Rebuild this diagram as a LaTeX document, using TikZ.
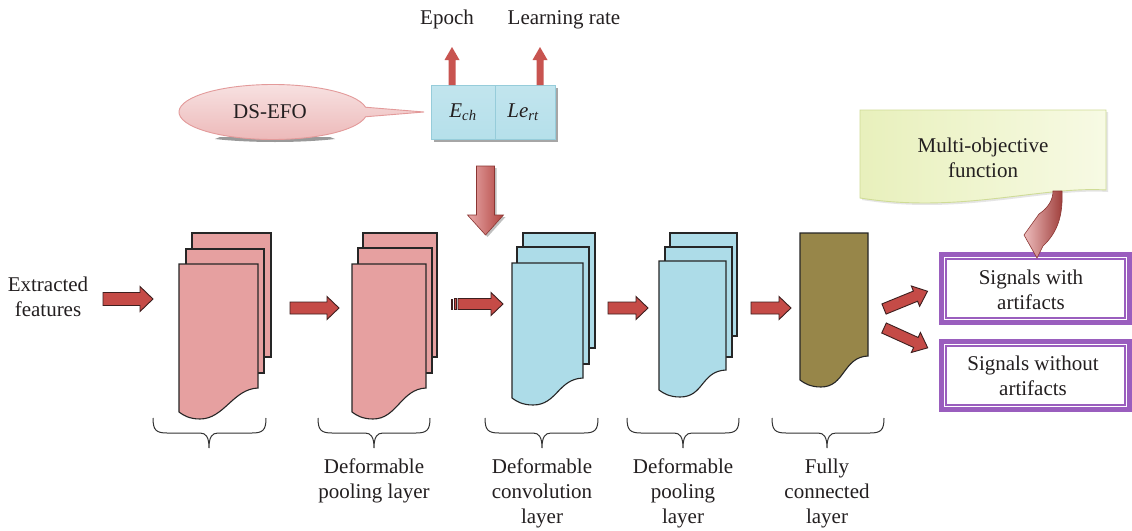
\documentclass[tikz,border=0pt]{standalone}
\usepackage{fontspec}
\setmainfont{Liberation Serif}
\usetikzlibrary{shapes.callouts,shadows}
\definecolor{sheetpink}{HTML}{E6A0A0}
\definecolor{sheetblue}{HTML}{ADDCE8}
\definecolor{sheetolive}{HTML}{978649}
\definecolor{arrred}{HTML}{C54B47}
\definecolor{arredge}{HTML}{3D1F1F}
\definecolor{txt}{HTML}{231F20}
\definecolor{outpurple}{HTML}{9A5EBE}
\definecolor{calloutedge}{HTML}{E39A9A}
\definecolor{boxedge}{HTML}{96CCDA}
\definecolor{mofedge}{HTML}{CFDC96}
\definecolor{mofleft}{HTML}{E8F0BC}
\definecolor{mofright}{HTML}{F7FAE4}
\newcommand{\blkarrow}[8]{%
  \begin{scope}[shift={(#2,#3)},rotate=#4]
  \draw[#1] (0,-#6) -- (#5-#8,-#6) -- (#5-#8,-#7) -- (#5,0) -- (#5-#8,#7) -- (#5-#8,#6) -- (0,#6) -- cycle;
  \end{scope}}
\newcommand{\sheetrect}[5]{\draw[sheet,fill=#5] (#1,#2) rectangle (#3,#4);}
\newcommand{\sheetdoc}[6]{\draw[sheet,fill=#6] (#1,#2) -- (#3,#2) -- (#3,#4)
  .. controls (#3-25,#4+1) and (#1+45,#5+7) .. (#1+21,#5+7)
  .. controls (#1+10,#5+7) and (#1+4,#5+3) .. (#1,#5) -- cycle;}
\newcommand{\layerbrace}[3]{\draw[bracestyle] (#1,418) .. controls (#1,430) and (#1+3,433) .. (#1+14,433)
  -- (#3-9,433) .. controls (#3-3,433) and (#3,437) .. (#3,448)
  .. controls (#3,437) and (#3+3,433) .. (#3+9,433) -- (#2-14,433)
  .. controls (#2-3,433) and (#2,430) .. (#2,418);}
\tikzset{
  sheet/.style={draw=black!85,line width=1.1pt,line join=miter},
  bracestyle/.style={draw=black!80,line width=1pt},
  redarrow/.style={fill=arrred,draw=arredge,line width=0.9pt,line join=miter},
  uparrow/.style={fill=arrred!95!white,draw=none},
  lbl/.style={text=txt,align=center,inner sep=0pt,anchor=north},
  ebox/.style={draw=boxedge,line width=0.8pt,top color=sheetblue!75!white,bottom color=sheetblue!90!white,
    minimum height=54pt,inner sep=0pt,text=txt},
  outbox/.style={draw=outpurple,line width=5pt,fill=white,minimum width=188pt,minimum height=68pt,
    inner sep=0pt,text=txt,align=center},
  every node/.style={font=\fontsize{21}{25}\selectfont}
}
\begin{document}
\begin{tikzpicture}[x=1pt,y=-1pt]
\useasboundingbox (0,0) rectangle (1132,530);
\fill[white] (0,0) rectangle (1132,530);

% top labels and arrows
\node[text=txt,anchor=base] (epoch) at (447,24) {Epoch};
\node[text=txt,anchor=base] (lrate) at (564,24) {Learning rate};

% DS-EFO callout
\fill[black!40] (215,139) .. controls (250,143) and (300,143) .. (335,139) -- (330,137) -- (220,137) -- cycle;
\node[ellipse callout,draw=calloutedge,line width=0.9pt,top color=sheetpink!30!white,bottom color=sheetpink!75!white,
  minimum width=188pt,minimum height=55pt,inner sep=0pt,text=txt,
  callout absolute pointer={(424,112)},callout pointer arc=20] (dsefo) at (273,112) {DS-EFO\hspace*{6pt}};

% E_ch / Le_rt boxes
\fill[black!35] (434,88) rectangle (558,142);
\node[ebox,minimum width=64pt] (ech) at (463,112) {\itshape E\textsubscript{ch}};
\node[ebox,minimum width=60pt] (lert) at (525,112) {\itshape Le\textsubscript{rt}\hspace*{4pt}};
\blkarrow{uparrow}{452}{85}{90}{38}{3.5}{7.5}{13}
\blkarrow{uparrow}{540}{85}{90}{38}{3.5}{7.5}{13}

% big down arrow
\draw[left color=sheetpink!90!white,right color=arrred!90!black,draw=arrred!70!black,line width=0.6pt,
  drop shadow={shadow xshift=2pt,shadow yshift=-2pt,fill=black!50}]
  (476.5,166) -- (494.5,166) -- (494.5,215) -- (503.5,215) -- (485.5,235) -- (467.5,215) -- (476.5,215) -- cycle;

% extracted features
\node[lbl] (ef) at (48,277) {Extracted\\features};

% block 1
\sheetrect{192}{233}{271}{357}{sheetpink}
\sheetrect{186}{249}{264}{373}{sheetpink}
\sheetdoc{179}{264}{258}{388}{412}{sheetpink}
% block 2
\sheetrect{363}{233}{437}{357}{sheetpink}
\sheetrect{358}{248}{432}{373}{sheetpink}
\sheetdoc{352}{264}{426}{388}{412}{sheetpink}
% block 3
\sheetrect{523}{233}{595}{348}{sheetblue}
\sheetrect{517}{247}{589}{364}{sheetblue}
\sheetdoc{512}{263}{583}{378}{398}{sheetblue}
% block 4
\sheetrect{670}{233}{737}{336}{sheetblue}
\sheetrect{665}{247}{732}{357}{sheetblue}
\sheetdoc{659}{261}{726}{370}{390}{sheetblue}
% block 5
\sheetdoc{800}{233}{868}{356}{380}{sheetolive}

% arrows between layers
\blkarrow{redarrow}{103}{299}{0}{50}{6.5}{12.5}{13}
\blkarrow{redarrow}{290}{308}{0}{49}{6}{11.5}{12}
\fill[arredge] (450.5,298.5) rectangle (453,309.5);
\draw[redarrow] (454.5,298.5) rectangle (456.5,309.5);
\blkarrow{redarrow}{458}{304}{0}{45}{5.5}{11.5}{12}
\blkarrow{redarrow}{608}{308}{0}{40}{6}{11.5}{12}
\blkarrow{redarrow}{751}{308}{0}{40}{6}{11.5}{12}
\blkarrow{redarrow}{884}{309}{22.2}{47}{5.5}{11}{13}
\blkarrow{redarrow}{884}{328}{-24.4}{48}{5.5}{11}{13}

% braces
\layerbrace{153}{266}{209}
\layerbrace{318}{430}{374}
\layerbrace{485}{598}{542}
\layerbrace{627}{739}{683}
\layerbrace{772}{884}{827}

% layer labels
\node[lbl] (l2) at (374,459) {Deformable\\pooling layer};
\node[lbl] (l3) at (542,459) {Deformable\\convolution\\layer};
\node[lbl] (l4) at (683,459) {Deformable\\pooling\\layer};
\node[lbl] (l5) at (827,459) {Fully\\connected\\layer};

% multi-objective function
\fill[black!10] (862,112) -- (1108,112) -- (1108,192) .. controls (1042,188) and (962,216) .. (862,200) -- cycle;
\draw[draw=mofedge,line width=0.9pt,left color=mofleft,right color=mofright]
  (860,110) -- (1106,110) -- (1106,190) .. controls (1040,186) and (960,214) .. (860,198) -- cycle;
\node[lbl] (mof) at (983,138) {Multi-objective\\function};

% output boxes
\node[outbox] (swa) at (1035.5,288.5) {};
\draw[outpurple,line width=1.3pt] ([shift={(7,7)}]swa.north west) rectangle ([shift={(-7,-7)}]swa.south east);
\node[lbl] at (1031,270) {Signals with\\artifacts};
\node[outbox] (swoa) at (1035.5,375.5) {};
\draw[outpurple,line width=1.3pt] ([shift={(7,7)}]swoa.north west) rectangle ([shift={(-7,-7)}]swoa.south east);
\node[lbl] at (1033,356) {Signals without\\artifacts};

% curved arrow into output
\draw[left color=sheetpink!70!white,right color=arrred!80!black,draw=arrred!70!black,line width=0.6pt,line join=miter]
  (1053,191) .. controls (1053,200) and (1048,208) .. (1039,214) -- (1024,235) -- (1037,258) -- (1043,246)
  .. controls (1058,232) and (1063,215) .. (1062,191) -- cycle;
\end{tikzpicture}
\end{document}
